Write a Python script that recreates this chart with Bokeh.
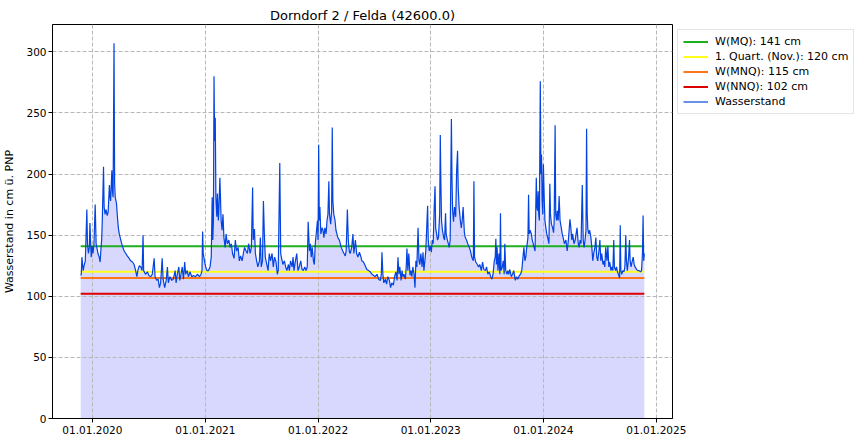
import pandas as pd
from bokeh.plotting import figure
from bokeh.models import (ColumnDataSource, Range1d, FixedTicker, SingleIntervalTicker,
                          DatetimeTickFormatter, Legend, LegendItem)
from bokeh.embed import file_html
from bokeh.resources import INLINE

# ---------------- data ----------------
title_text = "Dorndorf 2 / Felda (42600.0)"
y_label = "Wasserstand in cm ü. PNP"
origin = "2020-01-01"          # day offsets below count from this date

days = [
    -38, -36, -34, -30, -27, -23, -18, -16, -13, -10, -8, -4, -1, 2, 5, 9, 12, 15, 18, 22,
    25, 28, 30, 32, 36, 38, 41, 44, 48, 51, 55, 57, 59, 63, 65, 67, 70, 72, 74, 78,
    81, 84, 87, 92, 97, 103, 108, 113, 119, 124, 130, 135, 140, 144, 148, 152, 157, 161, 164, 166,
    172, 178, 183, 189, 194, 200, 203, 208, 213, 217, 221, 226, 229, 234, 239, 243, 246, 251, 257,
    262, 268, 271, 275, 280, 283, 287, 291, 295, 299, 302, 307, 311, 316, 322, 327, 334, 340, 347, 352,
    355, 357, 359, 363, 367, 371, 376, 381, 385, 388, 390, 392, 394, 396, 398, 400, 403, 405, 408, 410,
    413, 417, 420, 423, 426, 430, 433, 437, 442, 446, 450, 454, 459, 463, 467, 472, 476, 480, 485, 489,
    493, 498, 502, 506, 511, 515, 519, 521, 525, 528, 532, 536, 541, 544, 547, 551, 554, 557, 560, 565, 569,
    573, 577, 582, 586, 590, 595, 599, 602, 607, 610, 613, 617, 622, 626, 630, 635, 638, 642, 647, 650,
    653, 657, 662, 666, 670, 675, 679, 683, 688, 692, 696, 699, 703, 706, 709, 712, 716, 719, 722, 725,
    729, 731, 733, 735, 737, 740, 744, 747, 750, 753, 757, 760, 763, 766, 768, 772, 775, 777, 779, 782,
    786, 789, 792, 795, 800, 803, 806, 811, 815, 819, 822, 826, 829, 832, 835, 840, 844, 847, 852, 856,
    860, 865, 869, 873, 878, 882,
    889, 895, 900, 906, 911, 916, 922, 927, 933, 936, 938, 941, 944, 949, 953, 957, 962, 966, 970, 975,
    979, 983, 987, 990, 993, 996, 1000, 1003, 1006, 1009, 1014, 1017, 1019, 1022, 1025, 1029, 1032, 1035, 1038, 1042,
    1045, 1048, 1051, 1055, 1058, 1061, 1064, 1068, 1071, 1074, 1077, 1080, 1084, 1086, 1088, 1091, 1095, 1098, 1101, 1104,
    1107, 1110, 1112, 1115, 1118, 1121, 1125, 1127, 1129, 1131, 1134, 1138, 1141, 1144, 1146, 1150, 1153, 1156, 1159, 1163,
    1165, 1167, 1170, 1173, 1177, 1180, 1183, 1185, 1188, 1192,
    1195, 1198, 1201, 1205, 1208, 1212, 1216, 1221, 1225, 1229, 1234, 1236, 1238, 1242, 1247, 1251, 1255, 1260, 1264, 1268,
    1273, 1277, 1281, 1286, 1290, 1294, 1298, 1302, 1305, 1307, 1309, 1311, 1314, 1317, 1320, 1322, 1324, 1328, 1331, 1334,
    1336, 1339, 1343, 1346, 1349, 1352, 1357, 1361, 1365, 1370, 1374, 1378, 1383, 1387, 1391, 1396, 1398, 1401, 1404, 1407,
    1411, 1413, 1415, 1418, 1422, 1425, 1428, 1431, 1434, 1438, 1440, 1442, 1444, 1446, 1448, 1451, 1453, 1455, 1457, 1459,
    1461, 1464, 1466, 1469, 1472, 1475, 1479, 1482, 1484, 1487, 1491, 1494, 1496, 1499, 1501, 1504,
    1506, 1509, 1512, 1515, 1519, 1522, 1525, 1529, 1534, 1538, 1542, 1547, 1550, 1553, 1556, 1560, 1564, 1567, 1570, 1574,
    1577, 1580, 1583, 1587, 1590, 1593, 1596, 1599, 1601, 1603, 1605, 1608, 1611, 1615, 1618, 1621, 1624, 1628, 1631, 1634,
    1637, 1641, 1644, 1647, 1650, 1654, 1657, 1660, 1663, 1667, 1670, 1673, 1676, 1680, 1683, 1686, 1689, 1691, 1695, 1698,
    1701, 1704, 1708, 1710, 1712, 1715, 1718, 1722, 1725, 1728, 1730, 1733, 1737, 1740, 1742, 1745, 1749, 1752, 1755, 1758,
    1763, 1767, 1771, 1776, 1779, 1782, 1784, 1786, 1788,
]

level_cm = [
    117, 118, 132, 121, 125, 129, 171, 143, 135, 140, 160, 132, 141, 135, 143, 175, 143, 139, 135, 132,
    128, 140, 146, 162, 206, 173, 167, 171, 166, 169, 191, 181, 178, 203, 186, 181, 307, 192, 181, 176,
    165, 156, 151, 146, 141, 137, 135, 133, 131, 129, 128, 126, 121, 116, 122, 125, 124, 121, 150, 121,
    118, 120, 117, 116, 118, 131, 116, 113, 114, 107, 111, 131, 114, 107, 113, 124, 111, 116, 113,
    114, 121, 111, 118, 124, 113, 118, 124, 114, 128, 118, 121, 116, 120, 116, 117, 116, 118, 116, 118,
    121, 153, 135, 129, 124, 121, 121, 124, 132, 181, 146, 162, 280, 227, 246, 181, 165, 184, 162, 173,
    197, 162, 154, 167, 148, 140, 151, 143, 146, 140, 143, 135, 131, 146, 137, 140, 129, 133, 129, 135,
    140, 137, 135, 143, 135, 140, 189, 146, 155, 135, 129, 124, 129, 148, 124, 129, 178, 151, 132, 126, 121,
    135, 129, 135, 124, 132, 128, 118, 121, 209, 135, 131, 126, 129, 124, 121, 126, 121, 129, 124, 132,
    121, 128, 135, 121, 124, 129, 122, 121, 124, 121, 124, 161, 137, 143, 132, 140, 129, 126, 143, 151,
    162, 146, 224, 162, 173, 151, 156, 154, 148, 156, 151, 162, 167, 194, 167, 159, 170, 238, 178, 167,
    162, 154, 151, 148, 146, 143, 140, 137, 135, 133, 137, 171, 146, 137, 135, 140, 151, 135, 146, 135,
    132, 136, 133, 129, 128, 126,
    122, 121, 120, 118, 117, 116, 118, 114, 113, 118, 136, 118, 111, 114, 110, 116, 113, 107, 111, 109,
    116, 120, 113, 132, 118, 124, 113, 121, 116, 118, 114, 126, 139, 121, 135, 117, 121, 116, 124, 118,
    107, 129, 124, 156, 129, 126, 135, 124, 136, 121, 129, 137, 162, 174, 146, 137, 141, 136, 146, 143,
    170, 190, 156, 151, 146, 148, 167, 232, 192, 162, 154, 148, 146, 168, 151, 146, 143, 140, 146, 245,
    195, 170, 161, 173, 165, 203, 219, 189, 173, 162,
    156, 162, 173, 152, 148, 146, 143, 140, 137, 132, 129, 194, 132, 128, 126, 124, 126, 121, 128, 122,
    121, 124, 118, 120, 116, 114, 118, 129, 132, 147, 126, 140, 121, 135, 118, 168, 121, 124, 129, 118,
    143, 121, 118, 121, 118, 122, 116, 118, 121, 113, 116, 114, 117, 118, 121, 135, 140, 129, 132, 140,
    148, 183, 151, 154, 151, 146, 143, 140, 137, 197, 173, 170, 186, 167, 162, 276, 200, 216, 178, 167,
    208, 178, 162, 156, 151, 148, 143, 192, 167, 159, 156, 152, 162, 240, 167, 162,
    170, 162, 182, 162, 156, 151, 148, 143, 146, 137, 146, 163, 156, 146, 151, 143, 146, 151, 156, 143,
    140, 146, 143, 191, 146, 140, 146, 154, 237, 167, 155, 151, 154, 148, 140, 129, 135, 140, 148, 132,
    129, 137, 146, 129, 135, 126, 129, 124, 140, 129, 141, 124, 128, 121, 124, 121, 146, 124, 121, 124,
    120, 118, 115, 158, 121, 118, 121, 120, 124, 150, 129, 121, 132, 146, 129, 124, 129, 132, 126, 124,
    122, 121, 121, 120, 121, 135, 166, 129, 135,
]

ref_names = ["W(MQ)", "1. Quart. (Nov.)", "W(MNQ)", "W(NNQ)"]
ref_values = [141, 120, 115, 102]
ref_colors = ["#1fb01f", "#ffff1a", "#ff7518", "#dd0000"]
series_name = "Wasserstand"
year_ticks = [2020, 2021, 2022, 2023, 2024, 2025]

# ---------------- build ----------------
dates = pd.Timestamp(origin) + pd.to_timedelta(days, unit="D")
src = ColumnDataSource(data=dict(date=dates, level=level_cm))

span = dates[-1] - dates[0]
x_start = dates[0] - 0.05 * span
x_end = dates[-1] + 0.05 * span
y_end = max(level_cm) * 1.05

FONT = "DejaVu Sans"

p = figure(frame_width=620, frame_height=394, x_axis_type="datetime",
           x_range=Range1d(x_start, x_end), y_range=Range1d(0, y_end),
           output_backend="svg", toolbar_location=None,
           min_border_left=43, min_border_right=0, min_border_top=24, min_border_bottom=18,
           background_fill_color="white", border_fill_color="white")

p.title.text = title_text
p.title.text_font = FONT
p.title.text_font_size = "13px"
p.title.text_font_style = "normal"
p.title.align = "center"
p.title.text_color = "black"
p.title.standoff = 3

p.outline_line_color = "black"
p.outline_line_width = 1
p.outline_line_alpha = 1

# fill under the level
fill_r = p.varea(x="date", y1=0, y2="level", source=src, fill_color="#d8d8ff", level="image")

ref_renderers = []
for name, val, col in zip(ref_names, ref_values, ref_colors):
    r = p.line(x=[dates[0], dates[-1]], y=[val, val], line_color=col, line_width=2)
    ref_renderers.append((f"{name}: {val} cm", r))

line_r = p.line(x="date", y="level", source=src, line_color="#0343df", line_width=1.2)

# axes
p.xaxis.ticker = FixedTicker(ticks=[pd.Timestamp(f"{y}-01-01").value / 1e6 for y in year_ticks])
fmt = "%d.%m.%Y"
p.xaxis.formatter = DatetimeTickFormatter(years=fmt, months=fmt, days=fmt, hours=fmt,
                                          minutes=fmt, seconds=fmt, milliseconds=fmt,
                                          microseconds=fmt, hourmin=fmt, minsec=fmt)
p.yaxis.ticker = SingleIntervalTicker(interval=50)
p.yaxis.axis_label = y_label
p.yaxis.axis_label_text_font = FONT
p.yaxis.axis_label_text_font_size = "11px"
p.yaxis.axis_label_text_font_style = "normal"
p.yaxis.axis_label_text_color = "black"
p.yaxis.axis_label_standoff = 7

for ax in (p.xaxis, p.yaxis):
    ax.axis_line_color = "black"
    ax.major_tick_line_color = "black"
    ax.major_tick_out = 4
    ax.major_tick_in = 0
    ax.minor_tick_line_color = None
    ax.major_label_text_font = FONT
    ax.major_label_text_font_size = "10.5px"
    ax.major_label_text_color = "black"
p.xaxis.major_label_standoff = 3
p.yaxis.major_label_standoff = 2

p.grid.grid_line_color = "#b8b8b8"
p.grid.grid_line_dash = "4 2"
p.grid.grid_line_width = 1

items = [LegendItem(label=lab, renderers=[r]) for lab, r in ref_renderers]
items.append(LegendItem(label=series_name, renderers=[line_r]))
legend = Legend(items=items, location="top_left")
legend.label_text_font = FONT
legend.label_text_font_size = "11px"
legend.label_text_color = "black"
legend.glyph_width = 25
legend.glyph_height = 13
legend.spacing = 2
legend.padding = 5
legend.margin = 5
legend.label_standoff = 7
legend.border_line_color = "#cccccc"
legend.border_line_width = 1
legend.background_fill_color = "white"
p.add_layout(legend, "right")

open("out.html", "w").write(file_html(p, INLINE))
